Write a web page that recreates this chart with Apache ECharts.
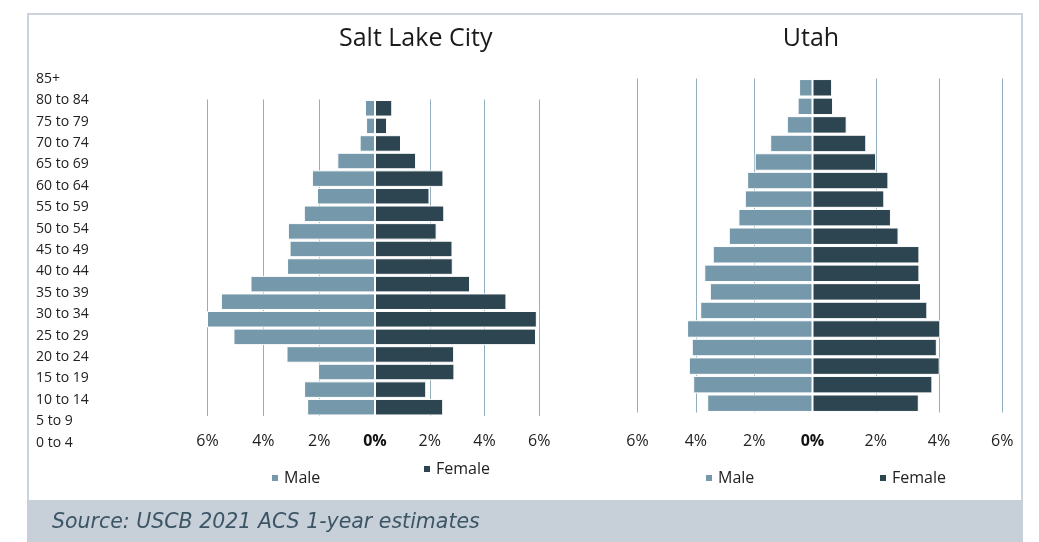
<!DOCTYPE html>
<html>
<head>
<meta charset="utf-8">
<script src="https://cdn.jsdelivr.net/npm/echarts@6/dist/echarts.min.js"></script>
<style>
  html, body { margin: 0; padding: 0; background: #fff; }
  #main { width: 1039px; height: 542px; }
</style>
</head>
<body>
<div id="main"></div>
<script>
// age groups, top to bottom
const ages = ['85+', '80 to 84', '75 to 79', '70 to 74', '65 to 69', '60 to 64', '55 to 59',
    '50 to 54', '45 to 49', '40 to 44', '35 to 39', '30 to 34', '25 to 29', '20 to 24',
    '15 to 19', '10 to 14', '5 to 9', '0 to 4'];

// percent of population
const slcMale = [0.36, 0.32, 0.55, 1.35, 2.26, 2.08, 2.55, 3.12, 3.06, 3.15, 4.46, 5.52, 6.03, 5.07, 3.17, 2.04, 2.54, 2.43];
const slcFemale = [0.63, 0.44, 0.95, 1.50, 2.50, 1.99, 2.53, 2.25, 2.83, 2.84, 3.47, 4.80, 5.91, 5.88, 2.89, 2.90, 1.87, 2.49];
const utahMale = [0.46, 0.51, 0.88, 1.45, 1.98, 2.24, 2.32, 2.54, 2.87, 3.42, 3.71, 3.52, 3.85, 4.30, 4.14, 4.24, 4.09, 3.61];
const utahFemale = [0.62, 0.65, 1.08, 1.70, 2.01, 2.40, 2.27, 2.48, 2.72, 3.38, 3.38, 3.43, 3.63, 4.04, 3.93, 4.02, 3.79, 3.36];

const titles = ['Salt Lake City', 'Utah'];
const source = 'Source: USCB 2021 ACS 1-year estimates';

const maleColor = '#7599aa';
const femaleColor = '#2d4551';
const gridColor = '#93aebd';
const font = 'Open Sans';

const chart = echarts.init(document.getElementById('main'));

function pctAxis(gridIndex, inverse, margin) {
    return {
        type: 'value', gridIndex: gridIndex, min: 0, max: 6, interval: 2, inverse: inverse,
        axisLine: {show: false}, axisTick: {show: false},
        splitLine: {show: true, showMinLine: false, lineStyle: {color: gridColor, width: 1}},
        axisLabel: {
            margin: margin, fontFamily: font, fontSize: 16, color: '#222',
            formatter: function (v) {
                if (v === 0) return inverse ? '' : '{b|0%}';
                return v + '%';
            },
            rich: {b: {fontFamily: font, fontSize: 16, fontWeight: 'bold', color: '#111'}}
        }
    };
}

function ageAxis(gridIndex) {
    return {
        type: 'category', gridIndex: gridIndex, data: ages, inverse: true,
        axisLine: {show: false}, axisTick: {show: false}, axisLabel: {show: false}
    };
}

function barSeries(name, color, xi, data) {
    return {
        type: 'bar', name: name, xAxisIndex: xi, yAxisIndex: xi, data: data,
        barCategoryGap: '6%',
        itemStyle: {color: color, borderColor: '#fff', borderWidth: 1}
    };
}

function legendItem(name, left, top) {
    return {
        data: [name], left: left, top: top, padding: 0, itemWidth: 8, itemHeight: 8, icon: 'rect',
        selectedMode: false,
        textStyle: {fontFamily: font, fontSize: 16, color: '#222', lineHeight: 20}
    };
}

const option = {
    animation: false,
    title: [
        {text: titles[0], left: 415.7, top: 26, padding: 0, textAlign: 'center',
            textStyle: {fontFamily: font, fontSize: 25, fontWeight: 'normal', color: '#1a1a1a'}},
        {text: titles[1], left: 811, top: 26, padding: 0, textAlign: 'center',
            textStyle: {fontFamily: font, fontSize: 25, fontWeight: 'normal', color: '#1a1a1a'}},
        {text: source, left: 52, top: 510.5, padding: 0,
            textStyle: {fontFamily: 'DejaVu Sans', fontSize: 20.5, fontStyle: 'italic', fontWeight: 'normal', color: '#3c5565', lineHeight: 24}}
    ],
    graphic: [
        {type: 'rect', z: 0, shape: {x: 28, y: 14, width: 994, height: 490},
            style: {fill: null, stroke: '#cbd4dc', lineWidth: 2}},
        {type: 'rect', z: 0, shape: {x: 27, y: 500, width: 996, height: 42},
            style: {fill: '#c7d0d9'}}
    ],
    legend: [
        legendItem('Male', 270, 468),
        legendItem('Female', 422, 459),
        legendItem('Male', 704, 468),
        legendItem('Female', 878, 468)
    ],
    grid: [
        {left: 36, top: 68, width: 100, height: 385.4},
        {left: 207.5, top: 99.5, width: 167.5, height: 316.5},
        {left: 375, top: 99.5, width: 164.3, height: 316.5},
        {left: 637.5, top: 78.5, width: 175, height: 334},
        {left: 812.5, top: 78.5, width: 189.8, height: 334}
    ],
    xAxis: [
        {type: 'value', gridIndex: 0, show: false},
        pctAxis(1, true, 17),
        pctAxis(2, false, 17),
        pctAxis(3, true, 21),
        pctAxis(4, false, 21)
    ],
    yAxis: [
        {
            type: 'category', gridIndex: 0, data: ages, inverse: true, position: 'left',
            axisLine: {show: false}, axisTick: {show: false},
            axisLabel: {align: 'left', margin: 0, fontFamily: font, fontSize: 14, color: '#222'}
        },
        ageAxis(1), ageAxis(2), ageAxis(3), ageAxis(4)
    ],
    series: [
        barSeries('Male', maleColor, 1, slcMale),
        barSeries('Female', femaleColor, 2, slcFemale),
        barSeries('Male', maleColor, 3, utahMale),
        barSeries('Female', femaleColor, 4, utahFemale)
    ]
};

chart.setOption(option);
</script>
</body>
</html>
